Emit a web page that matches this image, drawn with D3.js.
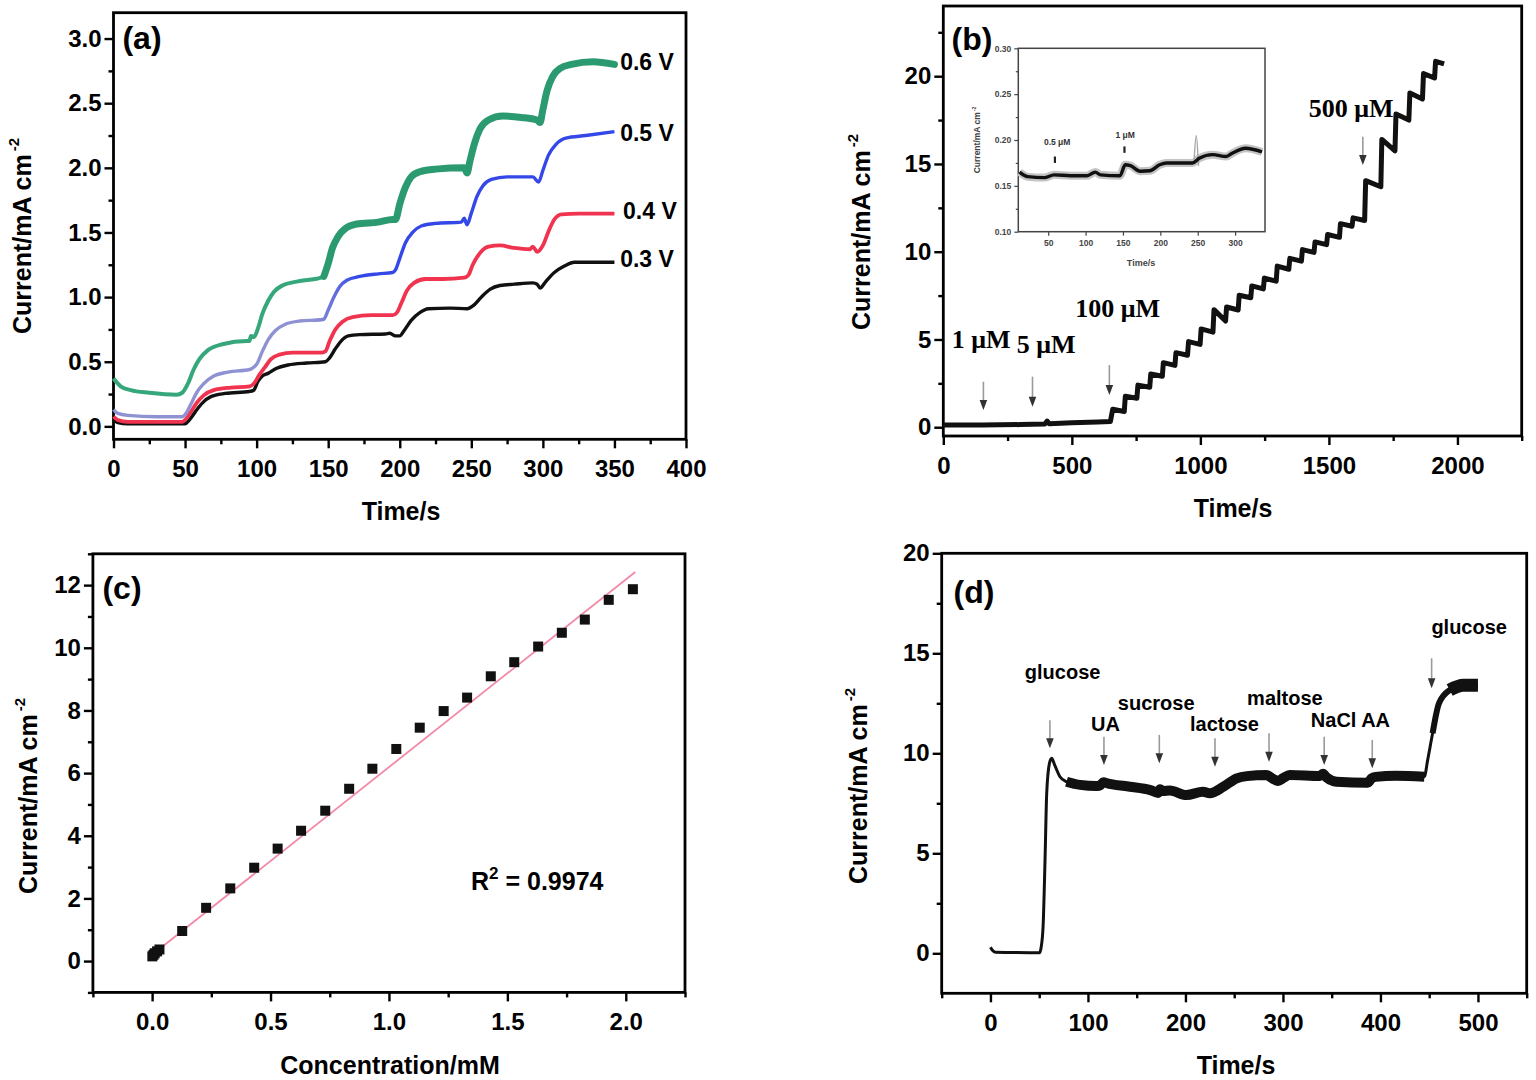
<!DOCTYPE html>
<html>
<head>
<meta charset="utf-8">
<script src="https://cdn.jsdelivr.net/npm/d3@7"></script>
<style>
  body { margin: 0; background: #fff; }
  svg text { font-family: "Liberation Sans", Arial, sans-serif; font-weight: bold; }
</style>
</head>
<body>
<svg id="fig" width="1536" height="1080"></svg>
<script>
// ---------- (a) current vs time at four potentials ----------
var a06T = [0, 5, 12, 25, 44, 48, 52, 56, 60, 66, 76, 93, 95, 96, 98, 101, 104, 108, 112, 118, 128, 145, 147, 150, 153, 157, 162, 170, 185, 195, 197, 200, 204, 208, 214, 225, 245, 247, 249, 252, 256, 262, 272, 285, 296, 298, 300, 303, 307, 312, 320, 335, 350];
var a06V = [0.37, 0.31, 0.28, 0.26, 0.245, 0.26, 0.33, 0.44, 0.52, 0.59, 0.635, 0.66, 0.66, 0.70, 0.69, 0.76, 0.87, 0.97, 1.04, 1.09, 1.12, 1.15, 1.16, 1.26, 1.38, 1.47, 1.53, 1.565, 1.58, 1.60, 1.60, 1.72, 1.85, 1.93, 1.97, 1.99, 2.00, 1.96, 2.05, 2.18, 2.30, 2.37, 2.40, 2.39, 2.37, 2.35, 2.45, 2.60, 2.71, 2.77, 2.80, 2.82, 2.80];
var a05T = [0, 3, 10, 30, 48, 50, 54, 58, 63, 70, 80, 95, 97, 100, 104, 108, 113, 120, 130, 145, 147, 150, 154, 158, 163, 172, 185, 195, 197, 200, 204, 209, 215, 225, 243, 245, 247, 250, 254, 258, 264, 275, 293, 297, 300, 304, 309, 316, 330, 350];
var a05V = [0.13, 0.10, 0.085, 0.075, 0.075, 0.09, 0.17, 0.26, 0.33, 0.39, 0.42, 0.44, 0.45, 0.48, 0.58, 0.67, 0.74, 0.79, 0.815, 0.825, 0.83, 0.90, 1.00, 1.08, 1.13, 1.16, 1.18, 1.19, 1.21, 1.30, 1.42, 1.50, 1.55, 1.57, 1.58, 1.61, 1.56, 1.65, 1.78, 1.86, 1.91, 1.93, 1.93, 1.89, 1.98, 2.10, 2.18, 2.23, 2.25, 2.28];
var a04T = [0, 3, 10, 48, 50, 54, 58, 63, 70, 82, 95, 98, 102, 106, 110, 116, 125, 145, 148, 151, 155, 160, 167, 180, 195, 198, 201, 205, 210, 218, 230, 245, 248, 251, 256, 262, 270, 280, 291, 293, 296, 300, 304, 308, 313, 325, 350];
var a04V = [0.075, 0.05, 0.035, 0.035, 0.05, 0.11, 0.18, 0.24, 0.28, 0.30, 0.31, 0.33, 0.40, 0.46, 0.52, 0.555, 0.57, 0.57, 0.58, 0.66, 0.75, 0.81, 0.845, 0.86, 0.86, 0.88, 0.95, 1.05, 1.11, 1.14, 1.14, 1.15, 1.17, 1.25, 1.34, 1.39, 1.40, 1.38, 1.37, 1.39, 1.35, 1.40, 1.51, 1.60, 1.64, 1.645, 1.645];
var a03T = [0, 3, 10, 50, 53, 57, 62, 68, 78, 95, 98, 101, 104, 108, 114, 122, 135, 148, 151, 155, 159, 164, 172, 190, 193, 197, 200, 203, 208, 214, 220, 235, 247, 252, 257, 263, 270, 280, 293, 296, 298, 302, 308, 315, 322, 335, 350];
var a03V = [0.05, 0.03, 0.02, 0.02, 0.05, 0.11, 0.18, 0.23, 0.255, 0.27, 0.28, 0.35, 0.39, 0.41, 0.45, 0.475, 0.49, 0.50, 0.53, 0.60, 0.66, 0.70, 0.71, 0.715, 0.72, 0.70, 0.70, 0.74, 0.82, 0.88, 0.91, 0.915, 0.91, 0.94, 1.00, 1.06, 1.09, 1.10, 1.11, 1.10, 1.07, 1.12, 1.19, 1.24, 1.27, 1.27, 1.27];
var aLabels = ["0.6 V", "0.5 V", "0.4 V", "0.3 V"];
var aLabelAt = [[354, 2.82], [354, 2.27], [356, 1.67], [354, 1.30]];
var aTicksX = [0, 50, 100, 150, 200, 250, 300, 350, 400];
var aMinorX = [25, 75, 125, 175, 225, 275, 325, 375];
var aTicksY = [0, 0.5, 1, 1.5, 2, 2.5, 3];
var aMinorY = [0.25, 0.75, 1.25, 1.75, 2.25, 2.75];

// ---------- (b) amperometric staircase ----------
var bBaseT = [0, 150, 300, 395, 404, 412, 500, 600, 650];
var bBaseV = [0.12, 0.13, 0.15, 0.18, 0.35, 0.20, 0.25, 0.30, 0.33];
var bStepT = [655, 704, 753, 803, 852, 901, 950, 999, 1049, 1098, 1147, 1196, 1245, 1295, 1344, 1393, 1442, 1491, 1541, 1590, 1639, 1702, 1757, 1811, 1864, 1911];
var bStart = [1.02, 1.76, 2.40, 3.03, 3.68, 4.25, 4.88, 5.60, 6.70, 6.85, 7.52, 8.05, 8.50, 9.18, 9.62, 10.12, 10.56, 10.98, 11.60, 11.93, 14.05, 16.40, 17.85, 19.05, 20.15, 20.85];
var bEnd = [0.90, 1.65, 2.28, 2.90, 3.52, 4.10, 4.72, 5.42, 6.05, 6.68, 7.38, 7.88, 8.32, 9.00, 9.46, 9.96, 10.40, 10.82, 11.45, 11.78, 13.70, 15.75, 17.50, 18.70, 19.90, 20.70];
var bLastT = 1948;
var bLabels = ["1 μM", "5 μM", "100 μM", "500 μM"];
var bLabelAt = [[33, 4.5], [286, 4.21], [513, 6.3], [1422, 17.69]];
var bArrowT = [156, 347, 646, 1632];
var bArrowTop = [2.59, 2.88, 3.54, 16.55];
var bArrowBot = [0.98, 1.17, 1.83, 14.94];
var bTicksX = [0, 500, 1000, 1500, 2000];
var bMinorX = [250, 750, 1250, 1750, 2250];
var bTicksY = [0, 5, 10, 15, 20];
var bMinorY = [2.5, 7.5, 12.5, 17.5, 22.5];

// (b) inset
var inT = [11.6, 22.6, 44.7, 58, 80, 102, 113, 120, 146, 153, 160, 173, 186, 199, 208, 243, 252, 270, 288, 296, 314, 336];
var inV = [0.165, 0.160, 0.159, 0.162, 0.161, 0.161, 0.165, 0.162, 0.161, 0.173, 0.172, 0.166, 0.1665, 0.173, 0.175, 0.175, 0.180, 0.184, 0.182, 0.1855, 0.191, 0.187];
var inSpikeT = [245, 248, 251];
var inSpikeV = [0.175, 0.205, 0.172];
var inLabels = ["0.5 μM", "1 μM"];
var inLabelAt = [[62, 0.198], [153, 0.205]];
var inArrowT = [59, 152];
var inArrowTop = [0.182, 0.193];
var inArrowBot = [0.175, 0.186];
var inTicksX = [50, 100, 150, 200, 250, 300];
var inTicksY = [0.10, 0.15, 0.20, 0.25, 0.30];
var inMinorY = [0.125, 0.175, 0.225, 0.275];

// ---------- (c) calibration ----------
var cConc = [0.001, 0.006, 0.011, 0.021, 0.031, 0.127, 0.228, 0.33, 0.431, 0.53, 0.629, 0.731, 0.832, 0.93, 1.031, 1.13, 1.231, 1.33, 1.43, 1.529, 1.63, 1.73, 1.827, 1.928, 2.03];
var cCurr = [0.15, 0.20, 0.25, 0.31, 0.37, 0.96, 1.70, 2.32, 2.98, 3.59, 4.16, 4.80, 5.50, 6.14, 6.77, 7.45, 7.98, 8.41, 9.09, 9.54, 10.04, 10.48, 10.90, 11.53, 11.87];
var cFitX = [0.04, 2.04];
var cFitY = [0.44, 12.42];
var cTicksX = [0, 0.5, 1, 1.5, 2];
var cMinorX = [-0.25, 0.25, 0.75, 1.25, 1.75, 2.25];
var cTicksY = [0, 2, 4, 6, 8, 10, 12];
var cMinorY = [-1, 1, 3, 5, 7, 9, 11, 13];

// ---------- (d) interference test ----------
var dT = [0, 2, 5, 20, 40, 50.5, 52, 54, 56, 57.7, 60.5, 62.8, 66, 71.3, 78, 92, 109, 113, 116, 120, 125, 143, 164, 172, 174, 177, 184, 201, 218, 225, 239, 252.6, 263, 283, 290, 295, 300, 307, 338, 341, 345, 355, 387, 391, 395, 416, 445, 448.4, 453.5, 460, 471, 485, 500];
var dV = [0.30, 0.15, 0.05, 0.04, 0.03, 0.03, 0.30, 1.35, 4.70, 8.00, 9.50, 9.75, 9.40, 8.83, 8.58, 8.42, 8.36, 8.42, 8.55, 8.50, 8.45, 8.33, 8.16, 8.02, 8.20, 8.12, 8.14, 7.91, 8.08, 8.00, 8.33, 8.75, 8.86, 8.91, 8.72, 8.62, 8.75, 8.91, 8.86, 8.98, 8.78, 8.58, 8.53, 8.75, 8.82, 8.88, 8.83, 9.66, 11.0, 12.5, 13.16, 13.4, 13.4];
var dLabels = ["glucose", "UA", "sucrose", "lactose", "maltose", "NaCl", "AA", "glucose"];
var dLabelAt = [[74, 14.08], [118, 11.5], [170, 12.53], [240, 11.5], [302, 12.8], [352, 11.7], [395, 11.7], [491, 16.33]];
var dArrowT = [61, 116.4, 173.2, 230.3, 285.7, 342.3, 391.6, 452.5];
var dArrowTop = [11.65, 10.83, 10.92, 10.75, 11.0, 10.83, 10.67, 14.75];
var dArrowBot = [10.25, 9.42, 9.5, 9.33, 9.58, 9.42, 9.25, 13.25];
var dTicksX = [0, 100, 200, 300, 400, 500];
var dMinorX = [-50, 50, 150, 250, 350, 450, 550];
var dTicksY = [0, 5, 10, 15, 20];
var dMinorY = [2.5, 7.5, 12.5, 17.5];

var svg = d3.select("#fig");

function zip(xs, ys) { return xs.map(function (v, i) { return [v, ys[i]]; }); }

// one framed plot: scales, outward ticks on bottom/left, box
function makePanel(p) {
    var x = d3.scaleLinear().domain(p.xDomain).range([p.left, p.right]);
    var y = d3.scaleLinear().domain(p.yDomain).range([p.bottom, p.top]);
    var g = svg.append("g");
    var fs = p.fs || 24;
    var tMaj = p.tMaj || 9, tMin = p.tMin || 5;

    g.append("g").attr("transform", "translate(0," + p.bottom + ")")
        .call(d3.axisBottom(x).tickValues(p.xMinor || []).tickSize(tMin).tickFormat(""));
    g.append("g").attr("transform", "translate(" + p.left + ",0)")
        .call(d3.axisLeft(y).tickValues(p.yMinor || []).tickSize(tMin).tickFormat(""));
    g.append("g").attr("transform", "translate(0," + p.bottom + ")")
        .call(d3.axisBottom(x).tickValues(p.xTicks).tickSize(tMaj).tickPadding(p.xPad).tickFormat(p.xFmt));
    g.append("g").attr("transform", "translate(" + p.left + ",0)")
        .call(d3.axisLeft(y).tickValues(p.yTicks).tickSize(tMaj).tickPadding(p.yPad).tickFormat(p.yFmt));

    g.selectAll(".domain").remove();
    g.selectAll(".tick line").attr("stroke", p.color || "#000").attr("stroke-width", p.tw || 2.4);
    g.selectAll(".tick text")
        .attr("font-family", "'Liberation Sans', Arial, sans-serif")
        .attr("font-weight", "bold")
        .attr("font-size", fs)
        .attr("fill", p.color || "#000");

    g.append("rect")
        .attr("x", p.left).attr("y", p.top)
        .attr("width", p.right - p.left).attr("height", p.bottom - p.top)
        .attr("fill", "none").attr("stroke", p.color || "#000").attr("stroke-width", p.fw || 2.8);

    return { x: x, y: y, g: g };
}

function yTitle(bx, cy, size) {
    var t = svg.append("text")
        .attr("transform", "translate(" + bx + "," + cy + ") rotate(-90)")
        .attr("text-anchor", "middle")
        .attr("font-size", size);
    t.append("tspan").text("Current/mA cm");
    t.append("tspan").attr("dy", -size * 0.48).attr("dx", size * 0.12).attr("font-size", size * 0.6).text("-2");
    return t;
}

function xTitle(cx, by, txt) {
    svg.append("text").attr("x", cx).attr("y", by).attr("text-anchor", "middle")
        .attr("font-size", 25).text(txt);
}

function arrow(px, y1, y2, head) {
    svg.append("line").attr("x1", px).attr("x2", px).attr("y1", y1).attr("y2", y2 - head * 0.8)
        .attr("stroke", "#9a9a9a").attr("stroke-width", 1.6);
    svg.append("path")
        .attr("d", "M" + (px - head * 0.38) + "," + (y2 - head) + "L" + (px + head * 0.38) + "," + (y2 - head) + "L" + px + "," + y2 + "Z")
        .attr("fill", "#333");
}

// ================= panel (a) =================
var A = makePanel({
    left: 113.5, right: 686, top: 12.7, bottom: 439.3,
    xDomain: [0, 400], yDomain: [-0.1, 3.2],
    xTicks: aTicksX, xMinor: aMinorX, yTicks: aTicksY, yMinor: aMinorY,
    xFmt: d3.format("d"), yFmt: d3.format(".1f"), xPad: 12, yPad: 3
});
var defs = svg.append("defs");
var grad = defs.append("linearGradient").attr("id", "blueFade")
    .attr("gradientUnits", "userSpaceOnUse")
    .attr("x1", A.x(0)).attr("x2", A.x(350)).attr("y1", 0).attr("y2", 0);
grad.append("stop").attr("offset", 0).attr("stop-color", "#8f92d2");
grad.append("stop").attr("offset", 140 / 350).attr("stop-color", "#8f92d2");
grad.append("stop").attr("offset", 170 / 350).attr("stop-color", "#3448e8");
grad.append("stop").attr("offset", 1).attr("stop-color", "#3448e8");

var lineA = d3.line().x(function (d) { return A.x(d[0]); }).y(function (d) { return A.y(d[1]); })
    .curve(d3.curveMonotoneX);
var aSeries = [
    { pts: zip(a03T, a03V), color: "#111", w: 3.4 },
    { pts: zip(a04T, a04V), color: "#f0334f", w: 3.8 },
    { pts: zip(a05T, a05V), color: "url(#blueFade)", w: 3.4 },
    { pts: zip(a06T, a06V), color: "#35a77b", w: 4 }
];
aSeries.forEach(function (s) {
    A.g.append("path").attr("d", lineA(s.pts)).attr("fill", "none")
        .attr("stroke", s.color).attr("stroke-width", s.w).attr("stroke-linejoin", "round");
});
// noisy band of the 0.6 V trace (thicker on the upper plateaus)
A.g.append("path").attr("d", lineA(zip(a06T, a06V).filter(function (d) { return d[0] >= 147; })))
    .attr("fill", "none").attr("stroke", "#2c9a70").attr("stroke-width", 7)
    .attr("stroke-linejoin", "round").attr("stroke-linecap", "round");

aLabels.forEach(function (l, i) {
    svg.append("text").attr("x", A.x(aLabelAt[i][0])).attr("y", A.y(aLabelAt[i][1]))
        .attr("dy", "0.36em").attr("font-size", 23).text(l);
});
svg.append("text").attr("x", 142).attr("y", 49).attr("text-anchor", "middle").attr("font-size", 32).text("(a)");
yTitle(31, 236, 25);
xTitle(401, 520, "Time/s");

// ================= panel (b) =================
var B = makePanel({
    left: 943.3, right: 1521.7, top: 6, bottom: 436,
    xDomain: [0, 2250], yDomain: [-0.5, 24],
    xTicks: bTicksX, xMinor: bMinorX, yTicks: bTicksY, yMinor: bMinorY,
    xFmt: d3.format("d"), yFmt: d3.format("d"), xPad: 12, yPad: 3
});
var bPts = zip(bBaseT, bBaseV);
bStepT.forEach(function (t, i) {
    var tNext = i < bStepT.length - 1 ? bStepT[i + 1] : bLastT;
    bPts.push([t + 4, bStart[i]]);
    bPts.push([tNext, bEnd[i]]);
});
var lineB = d3.line().x(function (d) { return B.x(d[0]); }).y(function (d) { return B.y(d[1]); });
B.g.append("path").attr("d", lineB(bPts)).attr("fill", "none")
    .attr("stroke", "#111").attr("stroke-width", 5).attr("stroke-linejoin", "round");

bLabels.forEach(function (l, i) {
    svg.append("text").attr("x", B.x(bLabelAt[i][0])).attr("y", B.y(bLabelAt[i][1]))
        .style("font-family", "'Liberation Serif', 'Times New Roman', serif")
        .attr("font-size", 26).text(l);
});
bArrowT.forEach(function (t, i) {
    arrow(B.x(t), B.y(bArrowTop[i]), B.y(bArrowBot[i]), 10);
});

// inset
var IN = makePanel({
    left: 1018.3, right: 1265, top: 48.3, bottom: 231.7,
    xDomain: [10, 340], yDomain: [0.10, 0.30],
    xTicks: inTicksX, yTicks: inTicksY, yMinor: inMinorY,
    xFmt: d3.format("d"), yFmt: d3.format(".2f"), xPad: 4, yPad: 3,
    fs: 8.5, tMaj: 4, tMin: 2.5, tw: 1.2, fw: 1.5, color: "#444"
});
var lineIn = d3.line().x(function (d) { return IN.x(d[0]); }).y(function (d) { return IN.y(d[1]); })
    .curve(d3.curveMonotoneX);
IN.g.append("path").attr("d", lineIn(zip(inT, inV))).attr("fill", "none")
    .attr("stroke", "#c4c4c4").attr("stroke-width", 8).attr("stroke-linejoin", "round");
IN.g.append("path").attr("d", lineIn(zip(inSpikeT, inSpikeV))).attr("fill", "none")
    .attr("stroke", "#a8a8a8").attr("stroke-width", 1.5);
IN.g.append("path").attr("d", lineIn(zip(inT, inV))).attr("fill", "none")
    .attr("stroke", "#111").attr("stroke-width", 3.4).attr("stroke-linejoin", "round");
inLabels.forEach(function (l, i) {
    svg.append("text").attr("x", IN.x(inLabelAt[i][0])).attr("y", IN.y(inLabelAt[i][1]))
        .attr("text-anchor", "middle").attr("dy", "0.35em").attr("font-size", 8.5).attr("fill", "#333").text(l);
});
inArrowT.forEach(function (t, i) {
    svg.append("line").attr("x1", IN.x(t)).attr("x2", IN.x(t))
        .attr("y1", IN.y(inArrowTop[i])).attr("y2", IN.y(inArrowBot[i]))
        .attr("stroke", "#222").attr("stroke-width", 2.2);
});
svg.append("text").attr("x", 1141).attr("y", 266).attr("text-anchor", "middle")
    .attr("font-size", 9).attr("fill", "#444").text("Time/s");
yTitle(980, 140, 8.5).attr("fill", "#444");

svg.append("text").attr("x", 972).attr("y", 50).attr("text-anchor", "middle").attr("font-size", 32).text("(b)");
yTitle(870, 232, 25);
xTitle(1233, 517, "Time/s");

// ================= panel (c) =================
var C = makePanel({
    left: 92.9, right: 685, top: 553.8, bottom: 992.4,
    xDomain: [-0.25, 2.25], yDomain: [-1, 13],
    xTicks: cTicksX, xMinor: cMinorX, yTicks: cTicksY, yMinor: cMinorY,
    xFmt: d3.format(".1f"), yFmt: d3.format("d"), xPad: 12, yPad: 3
});
C.g.append("line")
    .attr("x1", C.x(cFitX[0])).attr("y1", C.y(cFitY[0]))
    .attr("x2", C.x(cFitX[1])).attr("y2", C.y(cFitY[1]))
    .attr("stroke", "#f28aa6").attr("stroke-width", 1.8);
C.g.selectAll("rect.pt").data(zip(cConc, cCurr)).enter().append("rect")
    .attr("class", "pt")
    .attr("x", function (d) { return C.x(d[0]) - 5; })
    .attr("y", function (d) { return C.y(d[1]) - 5; })
    .attr("width", 10).attr("height", 10).attr("fill", "#111");
var r2 = svg.append("text").attr("x", 471).attr("y", 890).attr("font-size", 25);
r2.append("tspan").text("R");
r2.append("tspan").attr("dy", -11).attr("font-size", 17).text("2");
r2.append("tspan").attr("dy", 11).text(" = 0.9974");
svg.append("text").attr("x", 122).attr("y", 599).attr("text-anchor", "middle").attr("font-size", 32).text("(c)");
yTitle(37, 796, 25);
xTitle(390, 1074, "Concentration/mM");

// ================= panel (d) =================
var D = makePanel({
    left: 941.7, right: 1526.7, top: 553.3, bottom: 993.3,
    xDomain: [-50, 550], yDomain: [-2, 20],
    xTicks: dTicksX, xMinor: dMinorX, yTicks: dTicksY, yMinor: dMinorY,
    xFmt: d3.format("d"), yFmt: d3.format("d"), xPad: 12, yPad: 3
});
var lineD = d3.line().x(function (d) { return D.x(d[0]); }).y(function (d) { return D.y(d[1]); })
    .curve(d3.curveMonotoneX);
var dPts = zip(dT, dV);
D.g.append("path").attr("d", lineD(dPts)).attr("fill", "none")
    .attr("stroke", "#111").attr("stroke-width", 3).attr("stroke-linejoin", "round");
D.g.append("path").attr("d", lineD(dPts.filter(function (d) { return d[0] >= 72 && d[0] <= 446; })))
    .attr("fill", "none").attr("stroke", "#111").attr("stroke-width", 10).attr("stroke-linejoin", "round");
D.g.append("path").attr("d", lineD(dPts.filter(function (d) { return d[0] >= 453; })))
    .attr("fill", "none").attr("stroke", "#111").attr("stroke-width", 6).attr("stroke-linejoin", "round");
D.g.append("path").attr("d", lineD(dPts.filter(function (d) { return d[0] >= 468; })))
    .attr("fill", "none").attr("stroke", "#111").attr("stroke-width", 13).attr("stroke-linejoin", "round");

dLabels.forEach(function (l, i) {
    svg.append("text").attr("x", D.x(dLabelAt[i][0])).attr("y", D.y(dLabelAt[i][1]))
        .attr("text-anchor", "middle").attr("dy", "0.36em").attr("font-size", 20).text(l);
});
dArrowT.forEach(function (t, i) {
    arrow(D.x(t), D.y(dArrowTop[i]), D.y(dArrowBot[i]), 10);
});
svg.append("text").attr("x", 974).attr("y", 603).attr("text-anchor", "middle").attr("font-size", 32).text("(d)");
yTitle(867, 786, 25);
xTitle(1236, 1074, "Time/s");
</script>
</body>
</html>
